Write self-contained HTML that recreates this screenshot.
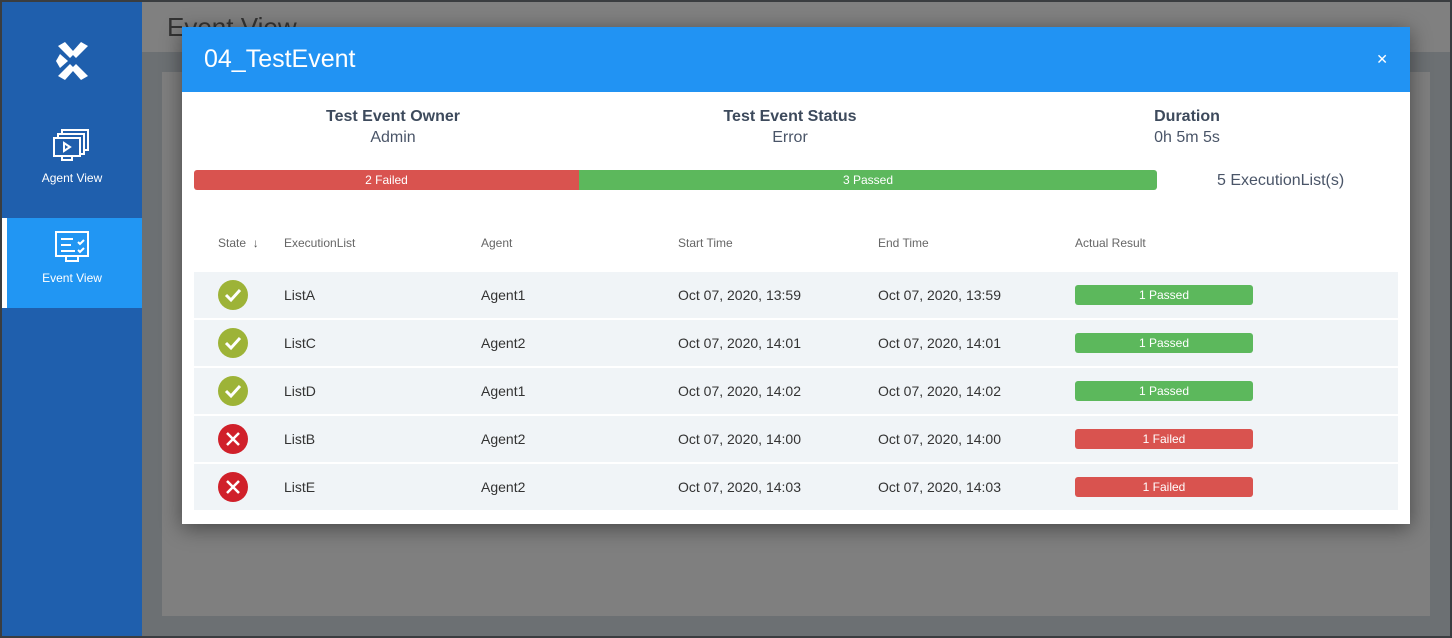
<!DOCTYPE html>
<html><head><style>
*{box-sizing:border-box;margin:0;padding:0}
body{width:1452px;height:638px;overflow:hidden;background:#3a3d40;font-family:"Liberation Sans",sans-serif;position:relative}
.main{position:absolute;left:2px;top:2px;width:1448px;height:634px;background:#6c7073}
.side{position:absolute;left:2px;top:2px;width:140px;height:634px;background:#1f5fad;color:#fff}
.hdr{position:absolute;left:142px;top:2px;width:1308px;height:50px;background:#808080}
.hdr span{position:absolute;left:25px;top:10px;font-size:26px;color:#333}
.panel{position:absolute;left:162px;top:72px;width:1268px;height:544px;background:#7f7f7f}
.modal{position:absolute;left:182px;top:27px;width:1228px;height:497px;background:#fff;box-shadow:0 4px 20px rgba(0,0,0,.45)}
.mh{height:65px;background:#2193f3;color:#fff;position:relative}
.mh .t{position:absolute;left:22px;top:18px;font-size:25px}
.mh .x{position:absolute;right:22px;top:24px;font-size:14px}
.info{position:absolute;top:81px;text-align:center;width:300px;color:#3d4a5c}
.info b{display:block;font-size:16px}
.info span{display:block;font-size:16px;margin-top:3px;color:#4a5568}
.bar{position:absolute;top:143px;height:20px;color:#fff;font-size:12px;text-align:center;line-height:20px}
.th{position:absolute;top:209px;font-size:12px;color:#666}
.row{position:absolute;left:12px;width:1204px;height:46px;background:#f0f4f7;font-size:14px;color:#333}
.row div{position:absolute;top:15px}
.ic{position:absolute;left:24px;top:8px;width:30px;height:30px;border-radius:50%}
.badge{position:absolute;left:881px;top:13px!important;width:178px;height:20px;border-radius:3px;color:#fff;font-size:12px;text-align:center;line-height:20px}
.g{background:#5cb85c}.r{background:#d9534f}
</style></head><body>
<div class="main"></div>
<div class="hdr"><span>Event View</span></div>
<div class="panel"></div>
<div class="side">
 <svg style="position:absolute;left:54px;top:40px" width="34" height="38" viewBox="0 0 34 38"><g fill="#fff"><polygon points="2,4 9,0 17,9 25,0 32,4 20,16 17,13 14,16"/><polygon points="2,34 9,38 17,29 25,38 32,34 20,22 17,25 14,22"/><polygon points="4,12 12,19 4,26 0,19"/></g></svg>
 <svg style="position:absolute;left:50px;top:126px" width="38" height="36" viewBox="0 0 38 36" fill="none" stroke="#fff" stroke-width="2"><rect x="10" y="2" width="26" height="20"/><rect x="6" y="6" width="26" height="20" fill="#1f5fad"/><rect x="2" y="10" width="26" height="18" fill="#1f5fad"/><path d="M12 15l6 4-6 4z"/><path d="M10 28v4h10v-4"/></svg>
 <div style="position:absolute;top:169px;width:140px;text-align:center;font-size:12px">Agent View</div>
 <div style="position:absolute;left:0;top:216px;width:140px;height:90px;background:#2196f3;border-left:5px solid #fff"></div>
 <svg style="position:absolute;left:52px;top:228px" width="36" height="36" viewBox="0 0 36 36" fill="none" stroke="#fff" stroke-width="2"><rect x="2" y="2" width="32" height="24"/><path d="M7 9h12M7 15h10M7 21h14M24 12l2 2 4-4M24 20l2 2 4-4M12 26v5h12v-5"/></svg>
 <div style="position:absolute;top:269px;width:140px;text-align:center;font-size:12px">Event View</div>
</div>
<div class="modal">
 <div class="mh"><span class="t">04_TestEvent</span><span class="x">✕</span></div>
 <div class="info" style="left:61px"><b>Test Event Owner</b><span>Admin</span></div>
 <div class="info" style="left:458px"><b>Test Event Status</b><span>Error</span></div>
 <div class="info" style="left:855px"><b>Duration</b><span>0h 5m 5s</span></div>
 <div class="bar r" style="left:12px;width:385px;border-radius:3px 0 0 3px">2 Failed</div>
 <div class="bar g" style="left:397px;width:578px;border-radius:0 3px 3px 0">3 Passed</div>
 <div style="position:absolute;left:1035px;top:145px;font-size:16px;color:#4a5568">5 ExecutionList(s)</div>
 <div class="th" style="left:36px">State &nbsp;<b style="color:#555">↓</b></div>
 <div class="th" style="left:102px">ExecutionList</div>
 <div class="th" style="left:299px">Agent</div>
 <div class="th" style="left:496px">Start Time</div>
 <div class="th" style="left:696px">End Time</div>
 <div class="th" style="left:893px">Actual Result</div>

 <div class="row" style="top:245px"><span class="ic" style="background:#9db337"><svg width="30" height="30"><path d="M8 15l5 5 9-10" stroke="#fff" stroke-width="3" fill="none"/></svg></span><div style="left:90px">ListA</div><div style="left:287px">Agent1</div><div style="left:484px">Oct 07, 2020, 13:59</div><div style="left:684px">Oct 07, 2020, 13:59</div><div class="badge g">1 Passed</div></div>
 <div class="row" style="top:293px"><span class="ic" style="background:#9db337"><svg width="30" height="30"><path d="M8 15l5 5 9-10" stroke="#fff" stroke-width="3" fill="none"/></svg></span><div style="left:90px">ListC</div><div style="left:287px">Agent2</div><div style="left:484px">Oct 07, 2020, 14:01</div><div style="left:684px">Oct 07, 2020, 14:01</div><div class="badge g">1 Passed</div></div>
 <div class="row" style="top:341px"><span class="ic" style="background:#9db337"><svg width="30" height="30"><path d="M8 15l5 5 9-10" stroke="#fff" stroke-width="3" fill="none"/></svg></span><div style="left:90px">ListD</div><div style="left:287px">Agent1</div><div style="left:484px">Oct 07, 2020, 14:02</div><div style="left:684px">Oct 07, 2020, 14:02</div><div class="badge g">1 Passed</div></div>
 <div class="row" style="top:389px"><span class="ic" style="background:#d0202a"><svg width="30" height="30"><path d="M9 9l12 12M21 9L9 21" stroke="#fff" stroke-width="2.5"/></svg></span><div style="left:90px">ListB</div><div style="left:287px">Agent2</div><div style="left:484px">Oct 07, 2020, 14:00</div><div style="left:684px">Oct 07, 2020, 14:00</div><div class="badge r">1 Failed</div></div>
 <div class="row" style="top:437px"><span class="ic" style="background:#d0202a"><svg width="30" height="30"><path d="M9 9l12 12M21 9L9 21" stroke="#fff" stroke-width="2.5"/></svg></span><div style="left:90px">ListE</div><div style="left:287px">Agent2</div><div style="left:484px">Oct 07, 2020, 14:03</div><div style="left:684px">Oct 07, 2020, 14:03</div><div class="badge r">1 Failed</div></div>
</div>
</body></html>
